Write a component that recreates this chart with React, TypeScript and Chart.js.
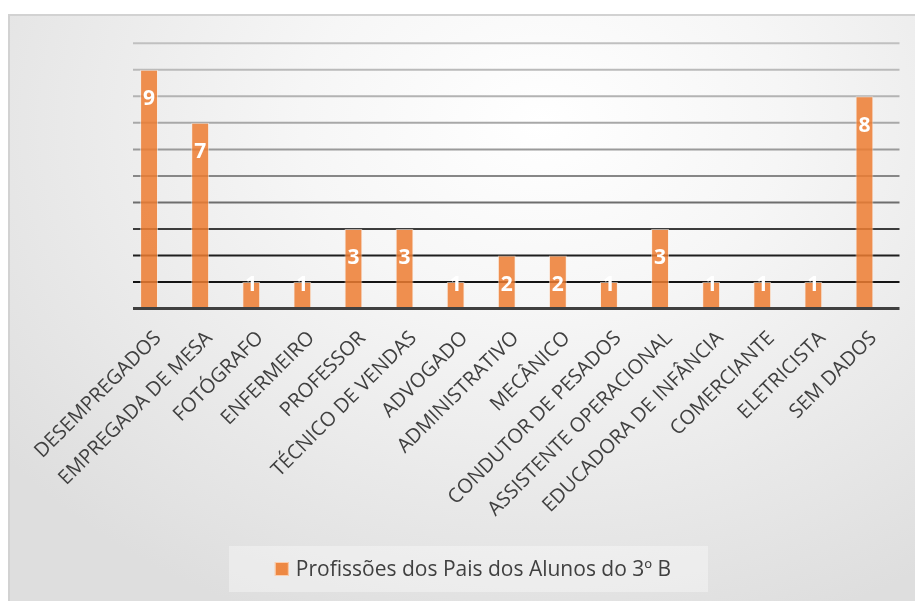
import React, { useEffect, useRef } from "react";
import { Chart, registerables } from "chart.js";

Chart.register(...registerables);

const categories = [
  "DESEMPREGADOS",
  "EMPREGADA DE MESA",
  "FOTÓGRAFO",
  "ENFERMEIRO",
  "PROFESSOR",
  "TÉCNICO DE VENDAS",
  "ADVOGADO",
  "ADMINISTRATIVO",
  "MECÂNICO",
  "CONDUTOR DE PESADOS",
  "ASSISTENTE OPERACIONAL",
  "EDUCADORA DE INFÂNCIA",
  "COMERCIANTE",
  "ELETRICISTA",
  "SEM DADOS",
];
const values = [9, 7, 1, 1, 3, 3, 1, 2, 2, 1, 3, 1, 1, 1, 8];
const seriesName = "Profissões dos Pais dos Alunos do 3º B";
const yMin = 0;
const yMax = 10;
const gridTicks = [1, 2, 3, 4, 5, 6, 7, 8, 9, 10];
const gridColors = [
  "#404040",
  "#141414",
  "#1e1e1e",
  "#3c3c3c",
  "#6e6e6e",
  "#878787",
  "#9a9a9a",
  "#a8a8a8",
  "#b3b3b3",
  "#bababa",
  "#c0c0c0",
];

const FONT = "'Open Sans', 'DejaVu Sans', sans-serif";
const GRID_SHIFT = 9.5;

const gridPlugin = {
  id: "shiftedGrid",
  beforeDatasetsDraw(chart: any) {
    const ctx = chart.ctx;
    const ys = chart.scales.y;
    const { left, right } = chart.chartArea;
    ctx.save();
    ctx.lineWidth = 2;
    gridTicks.forEach((v) => {
      const y = ys.getPixelForValue(v);
      ctx.strokeStyle = gridColors[v];
      ctx.beginPath();
      ctx.moveTo(left + GRID_SHIFT, y);
      ctx.lineTo(right + GRID_SHIFT, y);
      ctx.stroke();
    });
    ctx.restore();
  },
  afterDatasetsDraw(chart: any) {
    const ctx = chart.ctx;
    const ys = chart.scales.y;
    const { left, right } = chart.chartArea;
    const y = ys.getPixelForValue(yMin);
    ctx.save();
    ctx.lineWidth = 3;
    ctx.strokeStyle = gridColors[0];
    ctx.beginPath();
    ctx.moveTo(left + GRID_SHIFT, y);
    ctx.lineTo(right + GRID_SHIFT, y);
    ctx.stroke();
    ctx.restore();
  },
};

const dataLabelPlugin = {
  id: "dataLabels",
  afterDatasetsDraw(chart: any) {
    const ctx = chart.ctx;
    const meta = chart.getDatasetMeta(0);
    ctx.save();
    ctx.fillStyle = "#ffffff";
    ctx.font = `bold 21px ${FONT}`;
    ctx.textAlign = "center";
    ctx.textBaseline = "middle";
    meta.data.forEach((bar: any, i: number) => {
      const y = Math.min(bar.y + 28.5, bar.base - 24);
      ctx.fillText(String(values[i]), bar.x, y + 1);
    });
    ctx.restore();
  },
};

const legendPlugin = {
  id: "customLegend",
  afterDraw(chart: any) {
    const ctx = chart.ctx;
    const boxX = 229;
    const boxY = 546;
    const boxW = 479;
    const boxH = 46;
    ctx.save();
    ctx.fillStyle = "rgba(255,255,255,0.35)";
    ctx.fillRect(boxX, boxY, boxW, boxH);
    ctx.font = `21px ${FONT}`;
    const textW = ctx.measureText(seriesName).width;
    const sq = 14;
    const gap = 7;
    const total = sq + gap + textW;
    const startX = 473 - total / 2;
    const baseline = 576;
    ctx.fillStyle = "rgba(237,125,49,0.9)";
    ctx.fillRect(startX, baseline - sq, sq, sq);
    ctx.strokeStyle = "rgba(255,235,220,0.7)";
    ctx.lineWidth = 1;
    ctx.strokeRect(startX + 0.5, baseline - sq + 0.5, sq - 1, sq - 1);
    ctx.fillStyle = "#404040";
    ctx.textBaseline = "alphabetic";
    ctx.textAlign = "left";
    ctx.fillText(seriesName, startX + sq + gap, baseline);
    ctx.restore();
  },
};

export default function App() {
  const canvasRef = useRef<HTMLCanvasElement | null>(null);

  useEffect(() => {
    if (!canvasRef.current) return;
    const chart = new Chart(canvasRef.current, {
      type: "bar",
      data: {
        labels: categories,
        datasets: [
          {
            label: seriesName,
            data: values,
            backgroundColor: "rgba(237,125,49,0.85)",
            borderColor: "rgba(255,235,220,0.6)",
            borderWidth: 1,
            barPercentage: 0.35,
            categoryPercentage: 1,
          },
        ],
      },
      options: {
        animation: false,
        responsive: false,
        maintainAspectRatio: false,
        layout: { padding: { left: 123.5, right: 25, top: 43.3, bottom: 42.5 } },
        plugins: {
          legend: { display: false },
          tooltip: { enabled: false },
          title: { display: false },
        },
        scales: {
          x: {
            grid: { display: false, drawTicks: false },
            border: { display: false },
            ticks: {
              autoSkip: false,
              maxRotation: 45,
              minRotation: 45,
              color: "#404040",
              font: { family: FONT, size: 20 },
              padding: 18,
              labelOffset: 9,
            },
            afterFit(scale: any) {
              scale.height = 250;
              scale.paddingLeft = 0;
              scale.paddingRight = 0;
            },
          },
          y: {
            min: yMin,
            max: yMax,
            ticks: { display: false, stepSize: 1 },
            grid: { display: false, drawTicks: false },
            border: { display: false },
            afterFit(scale: any) {
              scale.width = 0;
            },
          },
        },
      },
      plugins: [gridPlugin, dataLabelPlugin, legendPlugin],
    });
    return () => chart.destroy();
  }, []);

  return (
    <div
      style={{
        position: "fixed",
        left: 0,
        top: 0,
        width: 915,
        height: 601,
        background: "#ffffff",
        overflow: "hidden",
      }}
    >
      <div
        style={{
          position: "absolute",
          left: 8,
          top: 14,
          width: 920,
          height: 600,
          boxSizing: "border-box",
          border: "2px solid #d2d2d2",
          background:
            "radial-gradient(ellipse 75% 90% at 58% 18%, #ffffff 0%, #f6f6f6 35%, #e9e9e9 70%, #dedede 100%)",
        }}
      />
      <canvas
        ref={canvasRef}
        width={915}
        height={601}
        style={{ position: "absolute", left: 0, top: 0, width: 915, height: 601 }}
      />
    </div>
  );
}
